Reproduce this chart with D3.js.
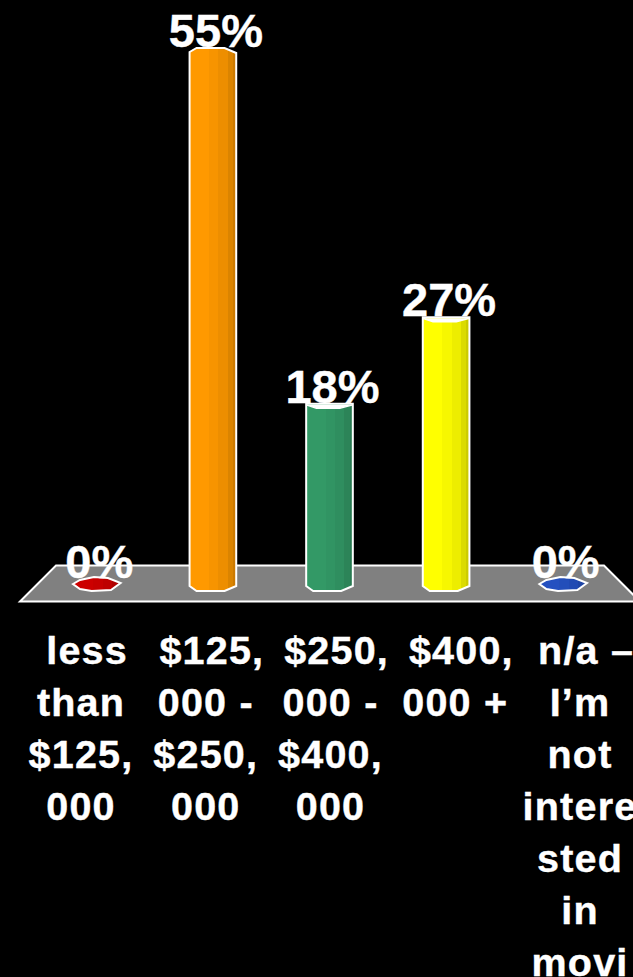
<!DOCTYPE html>
<html>
<head>
<meta charset="utf-8">
<script src="https://cdn.jsdelivr.net/npm/d3@7"></script>
<style>
html, body { margin: 0; background: #000; overflow: hidden; }
svg { display: block; }
text { font-family: "Liberation Sans", sans-serif; font-weight: bold; fill: #fff; stroke: #fff; stroke-width: 0.4; white-space: pre; }
</style>
</head>
<body>
<script>
const categories = ['less than', '$125,000 -', '$250,000 -', '$400,000 +', 'n/a'];
const values = [0, 55, 18, 27, 0];
const colours = ['#cc0000', '#ff9900', '#339966', '#ffff00', '#2450c0'];
const labelLines = [
    [' less', 'than', '$125,', '000'],
    [' $125,', '000 -', '$250,', '000'],
    [' $250,', '000 -', '$400,', '000'],
    [' $400,', '000 +'],
    [' n/a \u2013', 'I\u2019m', 'not', 'intere', 'sted', 'in', 'movi']
];
const shades = [[0, 1], [0.42, 0.97], [0.62, 0.93], [0.82, 0.86], [0.93, 0.8]];

const width = 633, height = 977;
const svg = d3.select('body').append('svg').attr('width', width).attr('height', height);
const defs = svg.append('defs');

const x = d3.scaleBand().domain(categories).range([38, 621]).paddingInner(0.6).paddingOuter(0.3);
const y = d3.scaleLinear().domain([0, 55]).range([577, 48]);
const labelX = d3.scalePoint().domain(categories).range([81, 580]);
const lineHeight = 52;

// floor of the 3d plot
const floorTop = 565.5, floorBottom = 601.5;
svg.append('path')
    .attr('d', `M20,${floorBottom}L56,${floorTop}H604L640,${floorBottom}Z`)
    .attr('fill', '#808080')
    .attr('stroke', '#fff')
    .attr('stroke-width', 2);

// hard edged strips, like the facets of the cylinder
colours.forEach((colour, i) => {
    const grad = defs.append('linearGradient').attr('id', 'facet' + i);
    shades.forEach(([offset, k], j) => {
        const c = d3.rgb(colour);
        const fill = d3.rgb(c.r * k, c.g * k, c.b * k).formatHex();
        grad.append('stop').attr('offset', offset).attr('stop-color', fill);
        const next = j < shades.length - 1 ? shades[j + 1][0] : 1;
        grad.append('stop').attr('offset', next).attr('stop-color', fill);
    });
});

function barPath(d) {
    const x0 = x(d.category), w = x.bandwidth(), x1 = x0 + w;
    const top = y(d.value), bottom = y(0) + 14;
    const a = w * 0.15, b = w * 0.75;
    if (d.value == 0) {
        // a flat puddle for the empty bars
        const mid = (top + bottom) / 2;
        return `M${x0},${mid}L${x0 + a},${top + 3}L${x0 + w * 0.45},${top}L${x0 + b},${top + 1}` +
            `L${x1 + 1},${mid - 1}L${x0 + b + 3},${bottom - 1}L${x0 + w * 0.4},${bottom}L${x0 + a},${bottom - 2}Z`;
    }
    const start = d.value < 50 ? `M${x0},${top}H${x1}V${top + 5}` : `M${x0},${top + 4}L${x0 + a},${top}H${x0 + b}L${x1},${top + 5}`;
    return `${start}V${bottom - 5}L${x0 + b},${bottom}H${x0 + a}L${x0},${bottom - 5}Z`;
}

const data = categories.map((category, i) => ({ category, value: values[i], i }));

svg.selectAll('.bar').data(data).join('path')
    .attr('class', 'bar')
    .attr('d', barPath)
    .attr('fill', d => `url(#facet${d.i})`)
    .attr('stroke', '#fff')
    .attr('stroke-width', 2);

// rim line on the two shorter bars
svg.selectAll('.rim').data(data.filter(d => d.value > 0 && d.value < 50)).join('path')
    .attr('class', 'rim')
    .attr('d', d => {
        const x0 = x(d.category), w = x.bandwidth(), top = y(d.value);
        return `M${x0},${top + 1}L${x0 + w * 0.22},${top + 4.5}H${x0 + w * 0.72}L${x0 + w},${top + 1}`;
    })
    .attr('fill', '#fff')
    .attr('stroke', '#fff')
    .attr('stroke-width', 1.5);

// value labels
svg.selectAll('.value').data(data).join('text')
    .attr('class', 'value')
    .attr('x', d => x(d.category) + x.bandwidth() / 2 + 3)
    .attr('y', d => y(d.value) + (d.value == 0 ? 1 : -1))
    .attr('text-anchor', 'middle')
    .attr('font-size', 47)
    .text(d => d.value + '%');

// category labels, wrapped as in the original
const groups = svg.selectAll('.cat').data(categories).join('text')
    .attr('class', 'cat')
    .attr('text-anchor', 'middle')
    .attr('font-size', 39.5)
    .attr('letter-spacing', 1.2);
groups.selectAll('tspan').data((d, i) => labelLines[i].map(line => ({ line, d }))).join('tspan')
    .attr('x', d => labelX(d.d))
    .attr('y', (d, i) => 663.5 + i * lineHeight)
    .text(d => d.line);
</script>
</body>
</html>
